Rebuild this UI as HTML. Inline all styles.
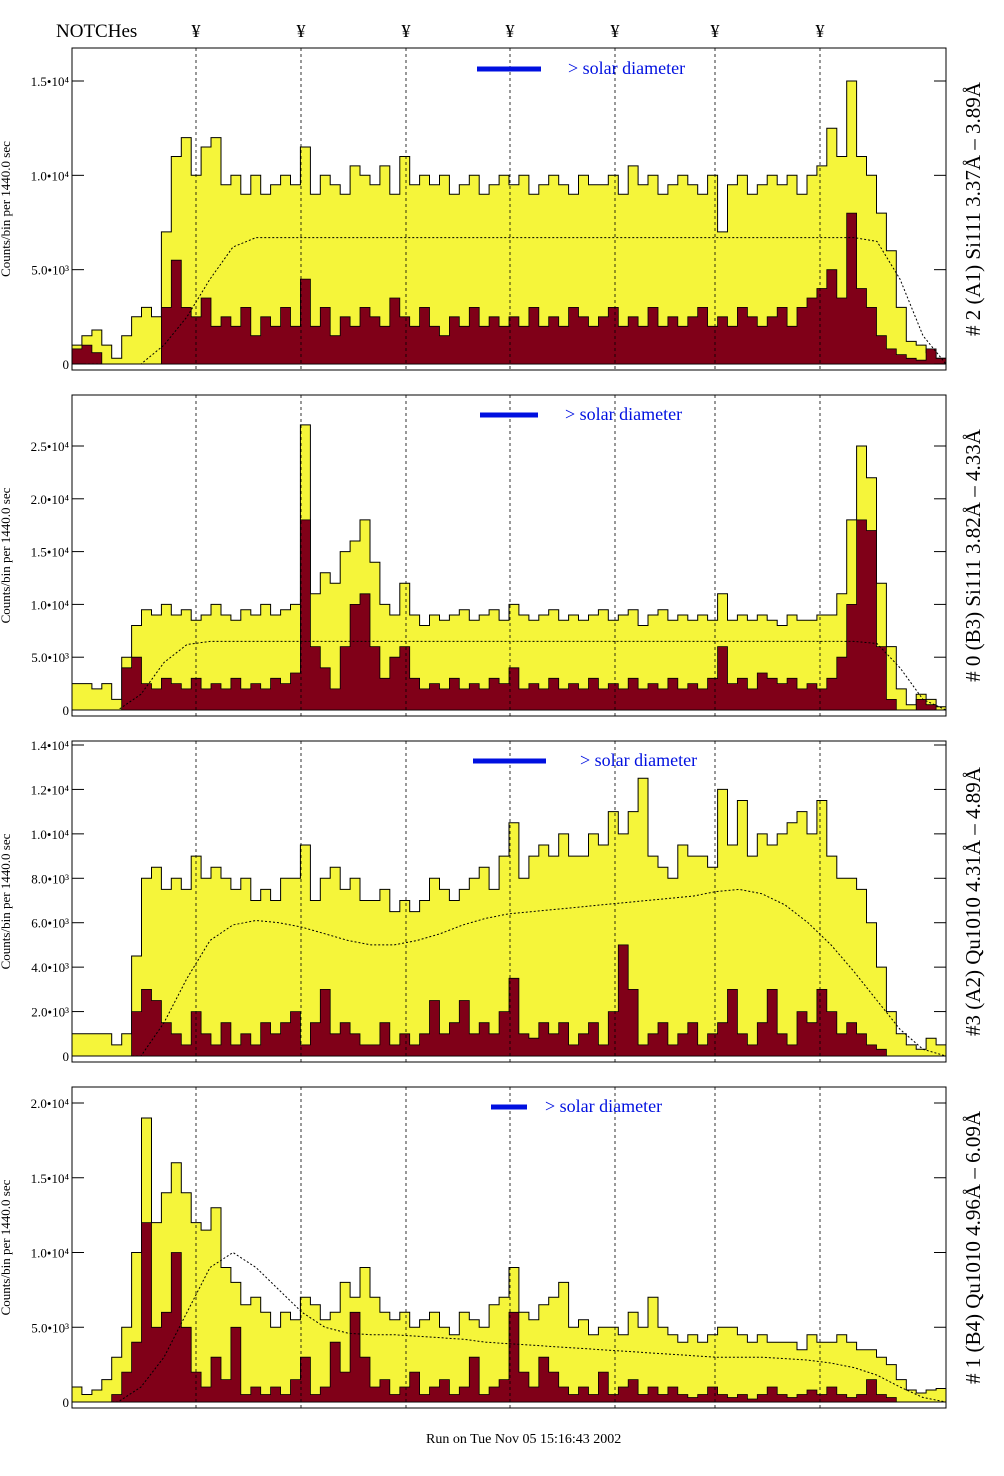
<!DOCTYPE html>
<html><head><meta charset="utf-8">
<style>
body{margin:0;background:#fff;}
svg{display:block;font-family:"Liberation Serif",serif;}
</style></head>
<body>
<svg id="chart" width="1004" height="1476" viewBox="0 0 1004 1476" xmlns="http://www.w3.org/2000/svg">
<text x="56" y="37" font-size="19">NOTCHes</text>
<text x="426" y="1443" font-size="14">Run on Tue Nov 05 15:16:43 2002</text>
</svg>
<script>
// Values in units of 1e3 counts per bin
const notchX = [196, 301, 406, 510, 615, 715, 820];
const p1Yellow = [1.0,1.5,1.8,1.0,0.3,1.5,2.5,3.0,2.5,7.0,11.0,12.0,10.0,11.5,12.0,9.5,10.0,9.0,10.0,9.0,9.5,10.0,9.5,11.5,9.0,10.0,9.5,9.0,10.5,10.0,9.5,10.5,9.0,11.0,9.5,10.0,9.5,10.0,9.0,9.5,10.0,9.0,9.5,10.0,9.5,10.0,9.0,9.5,10.0,9.5,9.0,10.0,9.5,9.5,10.0,9.0,10.5,9.5,10.0,9.0,9.5,10.0,9.5,9.0,10.0,7.0,9.5,10.0,9.0,9.5,10.0,9.5,10.0,9.0,10.0,10.5,12.5,11.0,15.0,11.0,10.0,8.0,6.0,3.0,1.2,1.0,0.6,0.3];
const p1Red = [0.8,1.0,0.6,0,0,0,0,0,0,3,5.5,3,2.5,3.5,2,2.5,2,3,1.5,2.5,2,3,2,4.5,2,3,1.5,2.5,2,3,2.5,2,3.5,2.5,2,3,2,1.5,2.5,2,3,2,2.5,2,2.5,2,3,2,2.5,2,3,2.5,2,2.5,3,2,2.5,2,3,2,2.5,2,2.5,3,2,2.5,2,3,2.5,2,2.5,3,2,3,3.5,4,5,3.5,8,4,3,1.5,0.8,0.5,0.3,0.2,0.8,0.3];
const p2Yellow = [2.5,2.5,2.0,2.5,1.0,5.0,8.0,9.5,9.0,10.0,9.0,9.5,8.5,9.0,10.0,9.0,8.5,9.5,9.0,10.0,9.0,9.5,10.0,27.0,11.0,13.0,12.0,15.0,16.0,18.0,14.0,10.0,9.0,12.0,9.0,8.0,9.0,8.5,9.0,9.5,8.5,9.0,9.5,8.5,10.0,9.0,8.5,9.0,9.5,8.5,9.0,8.5,9.0,9.5,8.5,9.0,9.5,8.0,9.0,9.5,8.5,9.0,8.5,9.0,8.5,11.0,8.5,9.0,8.5,9.0,8.5,8.0,9.0,8.5,8.5,9.0,9.0,11.0,18.0,25.0,22.0,12.0,6.0,2.0,0.5,1.5,1.0,0.3];
const p2Red = [0,0,0,0,0,4,5,2.5,2,3,2.5,2,3,2,2.5,2,3,2,2.5,2,3,2.5,3.5,18,6,4,2,6,10,11,6,3,5,6,3,2,2.5,2,3,2,2.5,2,3,2.5,4,2,2.5,2,3,2,2.5,2,3,2,2.5,2,3,2,2.5,2,3,2,2.5,2,3,6,2.5,3,2,3.5,3,2.5,3,2,2.5,2,3,5,10,18,17,6,1,0,0,1,0.5,0];
const p3Yellow = [1.0,1.0,1.0,1.0,0.5,1.0,4.5,8.0,8.5,7.5,8.0,7.5,9.0,8.0,8.5,8.0,7.5,8.0,7.0,7.5,7.0,8.0,8.0,9.5,7.0,8.0,8.5,7.5,8.0,7.0,7.0,7.5,6.5,7.0,6.5,7.0,8.0,7.5,7.0,7.5,8.0,8.5,7.5,9.0,10.5,8.0,9.0,9.5,9.0,10.0,9.0,9.0,10.0,9.5,11.0,10.0,11.0,12.5,9.0,8.5,8.0,9.5,9.0,9.0,8.5,12.0,9.5,11.5,9.0,10.0,9.5,10.0,10.5,11.0,10.0,11.5,9.0,8.0,8.0,7.5,6.0,4.0,2.0,1.0,0.5,0.3,0.8,0.5];
const p3Red = [0,0,0,0,0,0,2,3,2.5,1.5,1,0.5,2,1,0.5,1.5,0.5,1,0.5,1.5,1,1.5,2,0.5,1.5,3,1,1.5,1,0.5,0.5,1.5,0.5,1,0.5,1,2.5,1,1.5,2.5,1,1.5,1,2,3.5,1,0.8,1.5,1,1.5,0.5,1,1.5,0.5,2,5,3,0.5,1,1.5,0.5,1,1.5,0.5,1,1.5,3,1,0.5,1.5,3,1,0.5,2,1.5,3,2,1,1.5,1,0.5,0.3,0,0,0,0,0,0];
const p4Yellow = [1.0,0.5,0.8,1.5,3,5,10,19,12,14,16,14,12,11.5,13,9,8,6.5,7,6,5,6,5.5,7,6.5,5.5,6,8,7,9,7,6,5.5,6,5,5.5,6,5,4.5,6,5.5,5,6.5,7,9,6,5.5,6.5,7,8,5,5.5,4.5,5,5,4.5,6,5,7,5,4.5,4,4.5,4,4.5,5,5,4.5,4,4.5,4,4,4,3.5,4.5,4,4,4.5,4,3.5,3.5,3,2.5,1.5,0.8,0.6,0.8,0.9];
const p4Red = [0,0,0,0,0.5,2,4,12,5,6,10,5,2,1,3,1.5,5,0.5,1,0.5,1,0.5,1.5,3,0.5,1,4,2,6,3,1,1.5,0.5,1,2,0.5,1,1.5,0.5,1,3,0.5,1,1.5,6,2,1,3,2,1,0.5,1,0.5,2,0.5,1,1.5,0.5,1,0.5,1,0.5,0.3,0.5,1,0.5,0.3,0.5,0.2,0.5,1,0.5,0.3,0.5,0.8,0.5,1,0.5,0.3,0.5,1.5,0.5,0.3,0,0,0,0,0];
const p1Model = [0,0,0,0,1,2.5,4.5,6.2,6.7,6.7,6.7,6.7,6.7,6.7,6.7,6.7,6.7,6.7,6.7,6.7,6.7,6.7,6.7,6.7,6.7,6.7,6.7,6.7,6.7,6.7,6.7,6.7,6.7,6.7,6.7,6.5,4.5,1.5,0];
const p2Model = [0,0,0,1.5,4.5,6.2,6.5,6.5,6.5,6.5,6.5,6.5,6.5,6.5,6.5,6.5,6.5,6.5,6.5,6.5,6.5,6.5,6.5,6.5,6.5,6.5,6.5,6.5,6.5,6.5,6.5,6.5,6.5,6.5,6.5,6.3,4,1,0];
const p3Model = [0,0,0,0,1.5,3.5,5.2,5.9,6.1,6.0,5.8,5.5,5.2,5.0,5.0,5.2,5.5,5.9,6.2,6.4,6.5,6.6,6.7,6.8,6.9,7.0,7.1,7.2,7.4,7.5,7.3,6.8,6.0,5.0,3.8,2.5,1.2,0.3,0];
const p4Model = [0,0,0,1,3,6,9,10,9,7.5,6,5,4.6,4.5,4.5,4.4,4.3,4.2,4.0,3.9,3.8,3.7,3.6,3.5,3.4,3.3,3.2,3.1,3.0,3.0,3.0,2.9,2.8,2.6,2.3,1.8,1.0,0.3,0];

const panels = [
 {top:48,bot:370,y0:364,maxV:15,yMax:81,yel:p1Yellow,red:p1Red,model:p1Model,ticks:[0,5,10,15],tl:["0","5.0•10³","1.0•10⁴","1.5•10⁴"],leg:[477,541,568,69],label:"# 2 (A1) Si111  3.37Å – 3.89Å",name:"a1"},
 {top:395,bot:716,y0:710,maxV:25,yMax:446,yel:p2Yellow,red:p2Red,model:p2Model,ticks:[0,5,10,15,20,25],tl:["0","5.0•10³","1.0•10⁴","1.5•10⁴","2.0•10⁴","2.5•10⁴"],leg:[480,538,565,415],label:"# 0 (B3) Si111  3.82Å – 4.33Å",name:"b3"},
 {top:741,bot:1062,y0:1056,maxV:14,yMax:745,yel:p3Yellow,red:p3Red,model:p3Model,ticks:[0,2,4,6,8,10,12,14],tl:["0","2.0•10³","4.0•10³","6.0•10³","8.0•10³","1.0•10⁴","1.2•10⁴","1.4•10⁴"],leg:[473,546,580,761],label:"#3 (A2) Qu1010  4.31Å – 4.89Å",name:"a2"},
 {top:1087,bot:1408,y0:1402,maxV:20,yMax:1103,yel:p4Yellow,red:p4Red,model:p4Model,ticks:[0,5,10,15,20],tl:["0","5.0•10³","1.0•10⁴","1.5•10⁴","2.0•10⁴"],leg:[491,527,545,1107],label:"# 1 (B4) Qu1010 4.96Å – 6.09Å",name:"b4"}
];
const X0 = 72, X1 = 946;
const svg = document.getElementById('chart');
const NS = 'http://www.w3.org/2000/svg';
function mk(tag, attrs, parent){const e=document.createElementNS(NS,tag);for(const k in attrs)e.setAttribute(k,attrs[k]);(parent||svg).appendChild(e);return e;}

// notch markers
notchX.forEach((x,i)=>{
  const t=mk('text',{x:x,y:37,'font-size':18,'text-anchor':'middle'});
  
  
  t.textContent='¥';
});

panels.forEach(p=>{
  const g=mk('g',{});
  
  
  const yS=v=>p.y0-(v/p.maxV)*(p.y0-p.yMax);
  function histPath(vals){
    const n=vals.length, w=(X1-X0)/n;
    let d='M'+X0+','+p.y0;
    vals.forEach((v,i)=>{const y=Math.max(yS(v),p.top+1);d+=' L'+(X0+i*w).toFixed(1)+','+y.toFixed(1)+' L'+(X0+(i+1)*w).toFixed(1)+','+y.toFixed(1);});
    d+=' L'+X1+','+p.y0+' Z';return d;
  }
  const yl=mk('path',{d:histPath(p.yel),fill:'#f5f53a',stroke:'#000','stroke-width':1},g);
  
  
  const rd=mk('path',{d:histPath(p.red),fill:'#800018',stroke:'#000','stroke-width':0.8},g);
  
  
  // model dashed line
  const m=p.model, mw=(X1-X0)/(m.length-1);
  const pts=m.map((v,i)=>(X0+i*mw).toFixed(1)+','+yS(v).toFixed(1)).join(' ');
  const ml=mk('polyline',{points:pts,fill:'none',stroke:'#000','stroke-width':1,'stroke-dasharray':'2,2'},g);
  
  
  // notch lines
  notchX.forEach(x=>{
    const l=mk('line',{x1:x,x2:x,y1:p.top,y2:p.bot,stroke:'#000','stroke-width':0.8,'stroke-dasharray':'3,3'},g);
    
    
  });
  // frame
  const fr=mk('rect',{x:X0,y:p.top,width:X1-X0,height:p.bot-p.top,fill:'none',stroke:'#000','stroke-width':1},g);
  
  
  // y ticks
  p.ticks.forEach((t,i)=>{
    const y=yS(t);
    mk('line',{x1:X0,x2:X0+12,y1:y,y2:y,stroke:'#000'},g);
    mk('line',{x1:X1,x2:X1-12,y1:y,y2:y,stroke:'#000'},g);
    const tx=mk('text',{x:X0-3,y:y+5,'font-size':13,'text-anchor':'end'},g);
    
    
    tx.textContent=p.tl[i];
  });
  // y title
  const cy=(p.top+p.bot)/2;
  const yt=mk('text',{x:10,y:cy,'font-size':13,'text-anchor':'middle',transform:'rotate(-90 10 '+cy+')'},g);
  
  
  yt.textContent='Counts/bin per  1440.0 sec';
  // right label
  const rl=mk('text',{x:980,y:cy,'font-size':21,'text-anchor':'middle',transform:'rotate(-90 980 '+cy+')'},g);
  
  
  rl.textContent=p.label;
  // legend
  const lg=mk('line',{x1:p.leg[0],x2:p.leg[1],y1:p.leg[3],y2:p.leg[3],stroke:'#0010e0','stroke-width':5},g);
  
  
  const lt=mk('text',{x:p.leg[2],y:p.leg[3]+5,'font-size':18,fill:'#0010e0'},g);
  
  
  lt.textContent='> solar diameter';
});
</script>
</body></html>
